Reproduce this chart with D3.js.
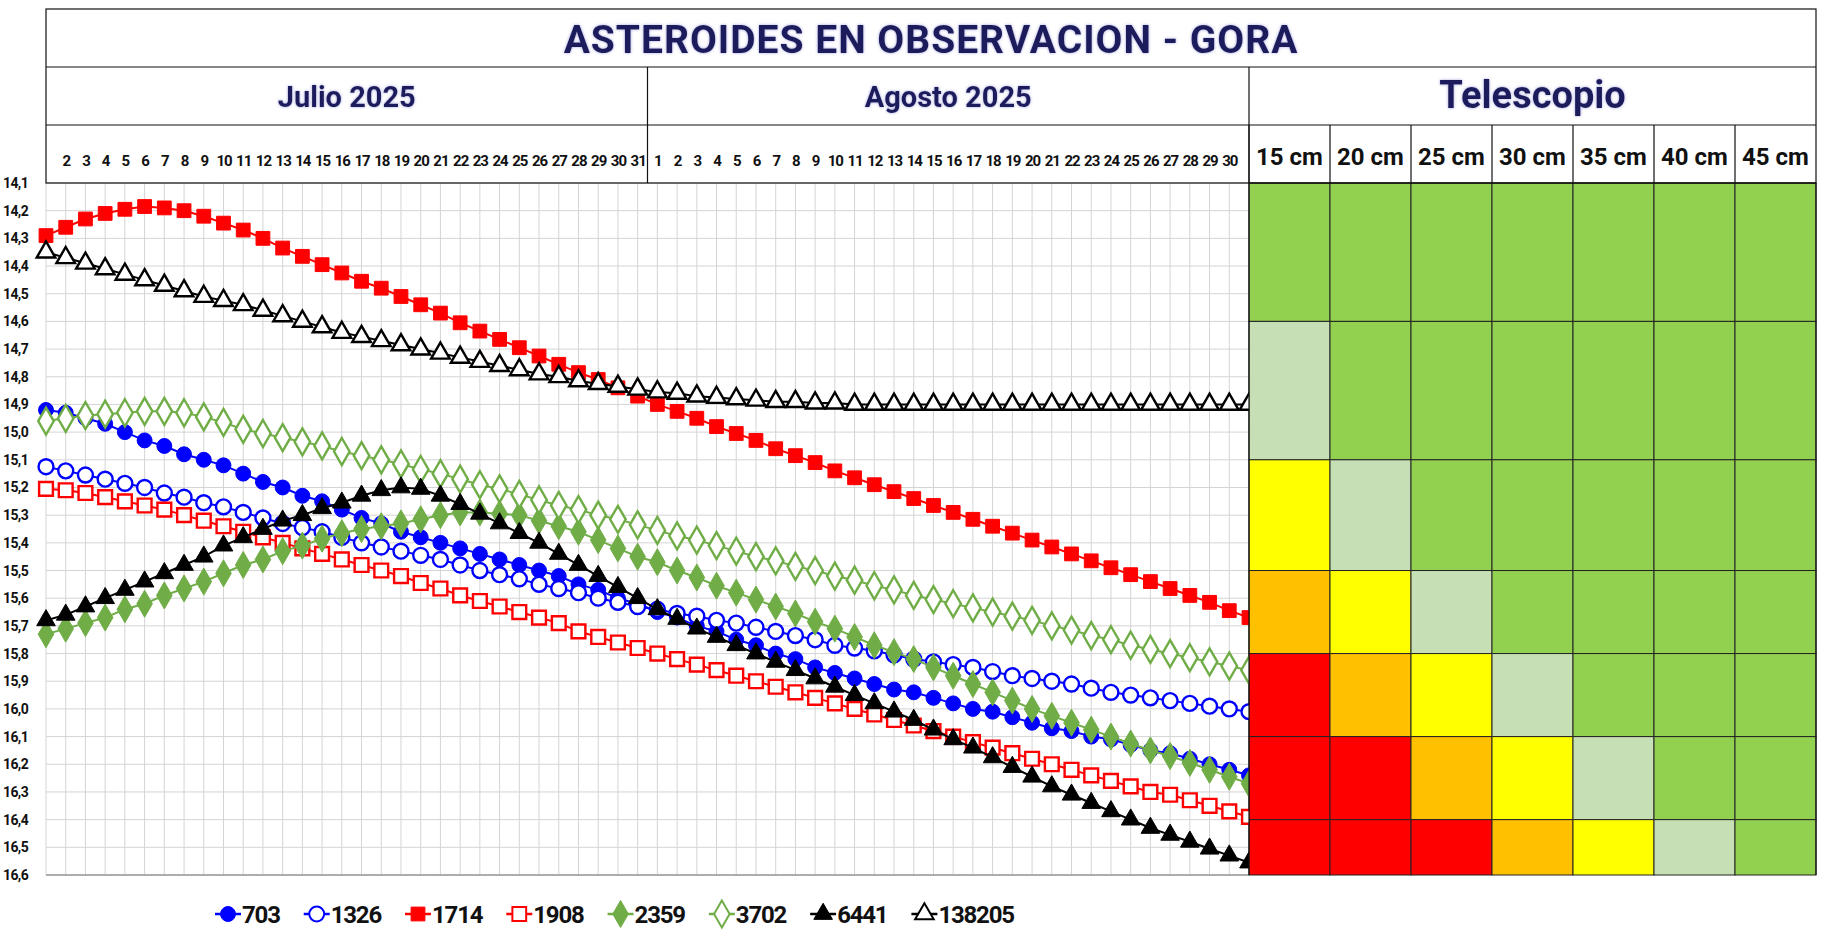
<!DOCTYPE html>
<html><head><meta charset="utf-8">
<script src="https://cdn.jsdelivr.net/npm/d3@7"></script>
<style>body{margin:0;background:#fff}svg{display:block}text{font-family:Roboto,"Open Sans",sans-serif}</style>
</head><body><svg id="c" width="1825" height="943"></svg>
<script>
const title = "ASTEROIDES EN OBSERVACION - GORA";
const months = ["Julio 2025", "Agosto 2025"];
const dayLabels = ["", "2","3","4","5","6","7","8","9","10","11","12","13","14","15","16","17","18","19","20","21","22","23","24","25","26","27","28","29","30","31",
  "1","2","3","4","5","6","7","8","9","10","11","12","13","14","15","16","17","18","19","20","21","22","23","24","25","26","27","28","29","30",""];
const yTicks = [14.1,14.2,14.3,14.4,14.5,14.6,14.7,14.8,14.9,15.0,15.1,15.2,15.3,15.4,15.5,15.6,15.7,15.8,15.9,16.0,16.1,16.2,16.3,16.4,16.5,16.6];
const telescopes = ["15 cm","20 cm","25 cm","30 cm","35 cm","40 cm","45 cm"];
const bands = [14.1,14.6,15.1,15.5,15.8,16.1,16.4,16.6];
// 0 green, 1 light green, 2 yellow, 3 orange, 4 red
const bandLevels = [
  [0,0,0,0,0,0,0],
  [1,0,0,0,0,0,0],
  [2,1,0,0,0,0,0],
  [3,2,1,0,0,0,0],
  [4,3,2,1,0,0,0],
  [4,4,3,2,1,0,0],
  [4,4,4,3,2,1,0]];
const levelColors = ["#92D050","#C6DFB4","#FFFF00","#FFC000","#FF0000"];

const s703 = [14.92,14.93,14.95,14.97,15.00,15.03,15.05,15.08,15.10,15.12,15.15,
 15.18,15.20,15.23,15.25,15.28,15.31,15.33,15.36,15.38,15.40,
 15.42,15.44,15.46,15.48,15.50,15.52,15.55,15.57,15.60,15.62,
 15.65,15.67,15.70,15.72,15.75,15.77,15.80,15.82,15.85,15.87,
 15.89,15.91,15.93,15.94,15.96,15.98,16.00,16.01,16.03,16.05,
 16.07,16.08,16.10,16.11,16.13,16.15,16.16,16.18,16.20,16.22,16.24];
const s1326 = [15.125,15.14,15.155,15.17,15.185,15.20,15.22,15.235,15.255,15.27,15.29,
 15.31,15.33,15.345,15.36,15.38,15.40,15.415,15.43,15.445,15.46,
 15.48,15.50,15.515,15.53,15.55,15.565,15.58,15.60,15.615,15.63,
 15.64,15.655,15.665,15.68,15.69,15.705,15.72,15.735,15.75,15.77,
 15.78,15.79,15.805,15.82,15.83,15.84,15.85,15.865,15.88,15.89,
 15.90,15.91,15.925,15.94,15.95,15.96,15.97,15.98,15.99,16.00,16.01];
const s1714 = [14.29,14.26,14.23,14.21,14.195,14.185,14.19,14.20,14.22,14.245,14.27,
 14.30,14.335,14.365,14.395,14.425,14.455,14.48,14.51,14.54,14.57,
 14.605,14.635,14.665,14.695,14.725,14.755,14.785,14.81,14.84,14.87,
 14.90,14.925,14.95,14.98,15.005,15.03,15.06,15.085,15.11,15.14,
 15.165,15.19,15.215,15.24,15.265,15.29,15.315,15.34,15.365,15.39,
 15.415,15.44,15.465,15.49,15.515,15.54,15.565,15.59,15.615,15.645,15.67];
const s1908 = [15.205,15.21,15.22,15.235,15.25,15.265,15.28,15.30,15.32,15.34,15.36,
 15.38,15.40,15.42,15.44,15.46,15.48,15.50,15.52,15.545,15.565,
 15.59,15.61,15.63,15.65,15.67,15.69,15.72,15.74,15.76,15.78,
 15.80,15.82,15.84,15.86,15.88,15.90,15.92,15.94,15.96,15.98,
 16.00,16.02,16.04,16.06,16.08,16.10,16.12,16.14,16.16,16.18,
 16.20,16.22,16.24,16.26,16.28,16.30,16.31,16.33,16.35,16.37,16.39];
const s2359 = [15.73,15.71,15.69,15.67,15.64,15.62,15.59,15.565,15.54,15.51,15.48,
 15.46,15.43,15.41,15.385,15.365,15.35,15.34,15.33,15.315,15.30,
 15.29,15.29,15.295,15.30,15.32,15.34,15.36,15.39,15.42,15.45,
 15.47,15.50,15.525,15.555,15.58,15.605,15.63,15.655,15.685,15.71,
 15.74,15.77,15.795,15.82,15.85,15.88,15.91,15.94,15.97,16.00,
 16.025,16.05,16.075,16.10,16.125,16.15,16.17,16.195,16.22,16.245,16.27];
const s3702 = [14.96,14.95,14.94,14.935,14.93,14.925,14.925,14.93,14.945,14.965,14.99,
 15.005,15.02,15.035,15.05,15.07,15.085,15.10,15.115,15.135,15.15,
 15.17,15.19,15.205,15.225,15.245,15.265,15.28,15.30,15.315,15.335,
 15.355,15.375,15.39,15.41,15.43,15.45,15.465,15.485,15.50,15.52,
 15.535,15.555,15.57,15.59,15.605,15.62,15.635,15.65,15.665,15.68,
 15.70,15.715,15.735,15.75,15.77,15.785,15.80,15.815,15.83,15.845,15.86];
const s6441 = [15.68,15.66,15.63,15.60,15.57,15.54,15.51,15.48,15.45,15.41,15.38,
 15.35,15.32,15.30,15.275,15.255,15.23,15.21,15.20,15.205,15.23,
 15.26,15.295,15.33,15.365,15.40,15.44,15.48,15.52,15.56,15.60,
 15.64,15.675,15.71,15.74,15.77,15.80,15.83,15.86,15.89,15.92,
 15.95,15.98,16.01,16.04,16.075,16.11,16.14,16.175,16.21,16.245,
 16.28,16.31,16.34,16.37,16.40,16.43,16.455,16.48,16.505,16.53,16.555];
const s138205 = [14.35,14.37,14.39,14.41,14.43,14.45,14.47,14.49,14.51,14.525,14.54,
 14.56,14.58,14.60,14.62,14.64,14.655,14.67,14.685,14.70,14.715,
 14.73,14.745,14.76,14.775,14.79,14.80,14.815,14.825,14.835,14.845,
 14.855,14.86,14.87,14.875,14.88,14.885,14.89,14.89,14.895,14.895,
 14.9,14.9,14.9,14.9,14.9,14.9,14.9,14.9,14.9,14.9,
 14.9,14.9,14.9,14.9,14.9,14.9,14.9,14.9,14.9,14.9,14.9];

const seriesNames = ["703","1326","1714","1908","2359","3702","6441","138205"];
const seriesValues = [s703,s1326,s1714,s1908,s2359,s3702,s6441,s138205];
const seriesColors = ["#0000FF","#0000FF","#FF0000","#FF0000","#70AD47","#70AD47","#000000","#000000"];
const seriesShapes = ["circle","circle","square","square","diamond","diamond","triangle","triangle"];
const seriesFilled = [true,false,true,false,true,false,true,false];

const svg = d3.select("#c");
const L = 46, R = 1816, PR = 1249, T = 9, H1 = 67, H2 = 125, PT = 183, PB = 875;
const navy = "#1E1E5C";
const x = d3.scaleLinear().domain([0,61]).range([L, PR]);
const y = d3.scaleLinear().domain([14.1,16.6]).range([PT, PB]);

const g = svg.append("g");
g.selectAll(".vg").data(d3.range(0,62)).join("line")
 .attr("x1",d=>x(d)).attr("x2",d=>x(d)).attr("y1",PT).attr("y2",PB)
 .attr("stroke","#d4d4d4").attr("stroke-width",1);
g.selectAll(".hg").data(yTicks).join("line")
 .attr("x1",L).attr("x2",PR).attr("y1",d=>y(d)).attr("y2",d=>y(d))
 .attr("stroke","#d4d4d4").attr("stroke-width",1);
g.append("line").attr("x1",L).attr("x2",PR).attr("y1",PB).attr("y2",PB).attr("stroke","#999").attr("stroke-width",1.5);

const yAxis = d3.axisLeft(y).tickValues(yTicks).tickSize(0).tickFormat(d=>d3.format(".1f")(d).replace(".",","));
const ya = svg.append("g").attr("transform","translate(3,0)").call(yAxis);
ya.select(".domain").remove();
ya.selectAll("text").attr("font-size",14).attr("font-weight","bold").attr("fill","#111")
  .attr("text-anchor","start").attr("x",0).attr("letter-spacing","-0.6");

const tx = d3.scaleBand().domain(telescopes).range([PR, R]);
const tg = svg.append("g");
bandLevels.forEach((row,ri)=>{
  row.forEach((lv,ci)=>{
    tg.append("rect").attr("x",tx(telescopes[ci])).attr("width",tx.bandwidth())
      .attr("y",y(bands[ri])).attr("height",y(bands[ri+1])-y(bands[ri]))
      .attr("fill",levelColors[lv]).attr("stroke","#222").attr("stroke-width",1);
  });
});

function sym(shape){
  if(shape==="circle") return d3.symbol(d3.symbolCircle,175)();
  if(shape==="square") return d3.symbol(d3.symbolSquare,190)();
  if(shape==="diamond") return d3.symbol(d3.symbolDiamond,210)();
  return d3.symbol(d3.symbolTriangle,150)();
}
const line = d3.line().x((d,i)=>x(i)).y(d=>y(d));
svg.append("clipPath").attr("id","pc").append("rect").attr("x",L-12).attr("y",PT-12).attr("width",PR-L+12).attr("height",PB-PT+24);
const sg = svg.append("g").attr("clip-path","url(#pc)");
seriesValues.forEach((vals,k)=>{
  const gg = sg.append("g");
  gg.append("path").attr("d",line(vals)).attr("fill","none").attr("stroke",seriesColors[k]).attr("stroke-width",2);
  gg.selectAll("path.m").data(vals).join("path").attr("class","m")
    .attr("d",sym(seriesShapes[k])).attr("transform",(d,i)=>`translate(${x(i)},${y(d)})`)
    .attr("fill",seriesFilled[k]?seriesColors[k]:"#fff")
    .attr("stroke",seriesColors[k]).attr("stroke-width",seriesFilled[k]?1:2.4);
});

const hg = svg.append("g").attr("fill","none").attr("stroke","#111").attr("stroke-width",1.2);
hg.append("rect").attr("x",L).attr("y",T).attr("width",R-L).attr("height",PT-T);
hg.append("line").attr("x1",L).attr("x2",R).attr("y1",H1).attr("y2",H1);
hg.append("line").attr("x1",L).attr("x2",R).attr("y1",H2).attr("y2",H2);
hg.append("line").attr("x1",x(30.5)).attr("x2",x(30.5)).attr("y1",H1).attr("y2",PT);
hg.append("line").attr("x1",PR).attr("x2",PR).attr("y1",H1).attr("y2",PB);
hg.append("line").attr("x1",PR).attr("x2",R).attr("y1",PT).attr("y2",PT);
telescopes.forEach(t=>hg.append("line").attr("x1",tx(t)).attr("x2",tx(t)).attr("y1",H2).attr("y2",PT));
hg.append("line").attr("x1",R).attr("x2",R).attr("y1",PT).attr("y2",PB);

const glow = svg.append("defs").append("filter").attr("id","glow").attr("x","-10%").attr("y","-30%").attr("width","120%").attr("height","160%");
glow.append("feGaussianBlur").attr("in","SourceAlpha").attr("stdDeviation",1.6).attr("result","b");
glow.append("feFlood").attr("flood-color","#8c8cd8").attr("flood-opacity",0.8);
glow.append("feComposite").attr("in2","b").attr("operator","in").attr("result","c");
const fm = glow.append("feMerge"); fm.append("feMergeNode").attr("in","c"); fm.append("feMergeNode").attr("in","SourceGraphic");

svg.append("text").attr("x",(L+R)/2).attr("y",53).attr("text-anchor","middle")
  .attr("font-size",39).attr("font-weight","bold").attr("fill",navy).attr("letter-spacing","1").attr("filter","url(#glow)").text(title);
svg.append("text").attr("x",(L+x(30.5))/2).attr("y",107).attr("text-anchor","middle")
  .attr("font-size",29).attr("font-weight","bold").attr("fill",navy).attr("filter","url(#glow)").text(months[0]);
svg.append("text").attr("x",(x(30.5)+PR)/2).attr("y",107).attr("text-anchor","middle")
  .attr("font-size",29).attr("font-weight","bold").attr("fill",navy).attr("filter","url(#glow)").text(months[1]);
svg.append("text").attr("x",(PR+R)/2).attr("y",108).attr("text-anchor","middle")
  .attr("font-size",38).attr("font-weight","bold").attr("fill",navy).attr("filter","url(#glow)").text("Telescopio");
telescopes.forEach(t=>svg.append("text").attr("x",tx(t)+tx.bandwidth()/2).attr("y",165).attr("text-anchor","middle")
  .attr("font-size",24).attr("font-weight","bold").attr("fill","#111").text(t));

const xAxis = d3.axisTop(x).tickValues(d3.range(0,62)).tickSize(0).tickFormat(i=>dayLabels[i]);
const xa = svg.append("g").attr("transform",`translate(0,${169})`).call(xAxis);
xa.select(".domain").remove();
xa.selectAll("text").attr("font-size",15).attr("font-weight","bold").attr("fill","#111").attr("letter-spacing","-1");

const lg = svg.append("g").attr("transform","translate(215,914)");
let lx = 0;
seriesNames.forEach((n,k)=>{
  const it = lg.append("g").attr("transform",`translate(${lx},0)`);
  it.append("line").attr("x1",0).attr("x2",26).attr("stroke",seriesColors[k]).attr("stroke-width",2.5);
  it.append("path").attr("d",sym(seriesShapes[k])).attr("transform","translate(13,0)")
    .attr("fill",seriesFilled[k]?seriesColors[k]:"#fff").attr("stroke",seriesColors[k]).attr("stroke-width",seriesFilled[k]?1:2);
  const t = it.append("text").attr("x",27).attr("y",9).attr("font-size",24).attr("font-weight","bold").attr("fill","#111").attr("letter-spacing","-1.2").text(n);
  lx += 27 + t.node().getComputedTextLength() + 24;
});
</script></body></html>
